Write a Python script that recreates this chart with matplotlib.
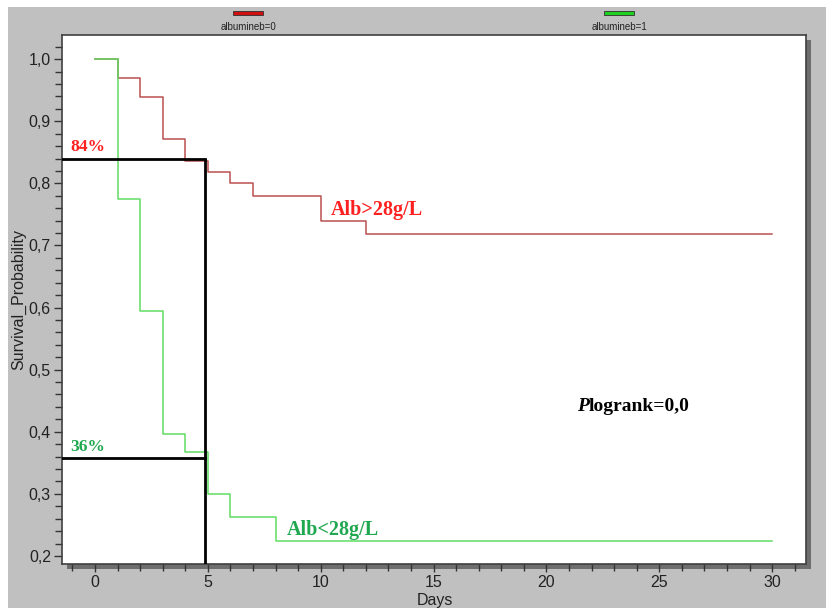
import matplotlib
matplotlib.use("Agg")
import matplotlib.pyplot as plt
from matplotlib.patches import Rectangle
from matplotlib.ticker import MultipleLocator, FuncFormatter

# Data
red_days = [0, 1, 2, 3, 4, 5, 6, 7, 10, 12, 30]
red_surv = [1.0, 0.969, 0.939, 0.872, 0.836, 0.819, 0.800, 0.780, 0.739, 0.718, 0.718]
green_days = [0, 1, 2, 3, 4, 5, 6, 8, 30]
green_surv = [1.0, 0.775, 0.594, 0.397, 0.367, 0.299, 0.262, 0.224, 0.224]
marker_day = 4.87
marker_red = 0.839
marker_green = 0.357
legend_labels = ["albumineb=0", "albumineb=1"]

W, H = 826, 608
fig = plt.figure(figsize=(W / 100, H / 100), dpi=100, facecolor="white")

# grey background panel
fig.patches.append(Rectangle((8 / W, 0), 1, (H - 7) / H, transform=fig.transFigure,
                             facecolor="#c0c0c0", edgecolor="none", zorder=-3))

x0, x1 = 62 / W, 806 / W
y0, y1 = (H - 564) / H, (H - 35) / H
# shadow
fig.patches.append(Rectangle((x0 + 5 / W, y0 - 5 / H), x1 - x0, y1 - y0,
                             transform=fig.transFigure, facecolor="#6e6e6e",
                             edgecolor="none", zorder=-2))

ax = fig.add_axes([x0, y0, x1 - x0, y1 - y0])
ax.set_zorder(2)
ax.set_facecolor("white")
ax.set_xlim(-1.46, 31.5)
ax.set_ylim(0.187, 1.039)

ax.step(red_days, red_surv, where="post", color="#bb5050", lw=1.1, zorder=3)
ax.step(green_days, green_surv, where="post", color="#60dc60", lw=1.1, zorder=4)

lim = ax.get_xlim()[0]
ax.plot([lim, marker_day], [marker_red, marker_red], color="black", lw=2.0, zorder=5)
ax.plot([lim, marker_day], [marker_green, marker_green], color="black", lw=2.0, zorder=5)
ax.plot([marker_day, marker_day], [marker_red, ax.get_ylim()[0]], color="black", lw=2.0,
        zorder=5, solid_capstyle="butt")

serif = "Liberation Serif"
ax.text(-1.1, 0.852, "84%", color="#ff2020", fontsize=12.5, fontweight="bold", family=serif)
ax.text(-1.1, 0.369, "36%", color="#20a850", fontsize=12.5, fontweight="bold", family=serif)
ax.text(10.45, 0.749, "Alb>28g/L", color="#ff2020", fontsize=14.5, fontweight="bold", family=serif)
ax.text(8.5, 0.233, "Alb<28g/L", color="#20a850", fontsize=14.5, fontweight="bold", family=serif)
ptxt = ax.text(21.35, 0.427, "P", fontsize=14, fontweight="bold", fontstyle="italic",
               family=serif, va="bottom")
ax.annotate("logrank=0,0", xy=(1, 0), xycoords=ptxt, fontsize=14, fontweight="bold",
            family=serif, va="bottom", ha="left")

for sp in ax.spines.values():
    sp.set_color("#404040")
    sp.set_linewidth(1.2)

ax.xaxis.set_major_locator(MultipleLocator(5))
ax.xaxis.set_minor_locator(MultipleLocator(1))
ax.yaxis.set_major_locator(MultipleLocator(0.1))
ax.yaxis.set_minor_locator(MultipleLocator(0.02))
ax.yaxis.set_major_formatter(FuncFormatter(lambda v, p: f"{v:.1f}".replace(".", ",")))
ax.xaxis.set_major_formatter(FuncFormatter(lambda v, p: f"{int(round(v))}"))
ax.tick_params(which="major", direction="out", length=6, width=1, color="#333333",
               labelsize=11.5, labelcolor="#222222", pad=2)
ax.tick_params(which="minor", direction="out", length=5, width=1, color="#333333")
for lab in ax.get_xticklabels() + ax.get_yticklabels():
    lab.set_family("Liberation Sans")

fig.text(435 / W, 1 - 601 / H, "Days", ha="center", va="center", fontsize=11.5,
         family="Liberation Sans", color="#222222")
fig.text(19 / W, 1 - 299 / H, "Survival_Probability", ha="center", va="center",
         rotation=90, fontsize=11.5, family="Liberation Sans", color="#222222")

# legend at top
for (xa, xb), col, lab in zip([(233, 263), (604, 634)], ["#d01010", "#20d020"], legend_labels):
    fig.patches.append(Rectangle((xa / W, 1 - 15 / H), (xb - xa) / W, 4 / H,
                                 transform=fig.transFigure, facecolor=col,
                                 edgecolor="#303030", lw=0.6, zorder=3))
    fig.text((xa + xb) / 2 / W, 1 - 27 / H, lab, ha="center", va="center", fontsize=7,
             family="Liberation Sans", color="#222222")

fig.savefig("out.png", dpi=100, facecolor=fig.get_facecolor())
